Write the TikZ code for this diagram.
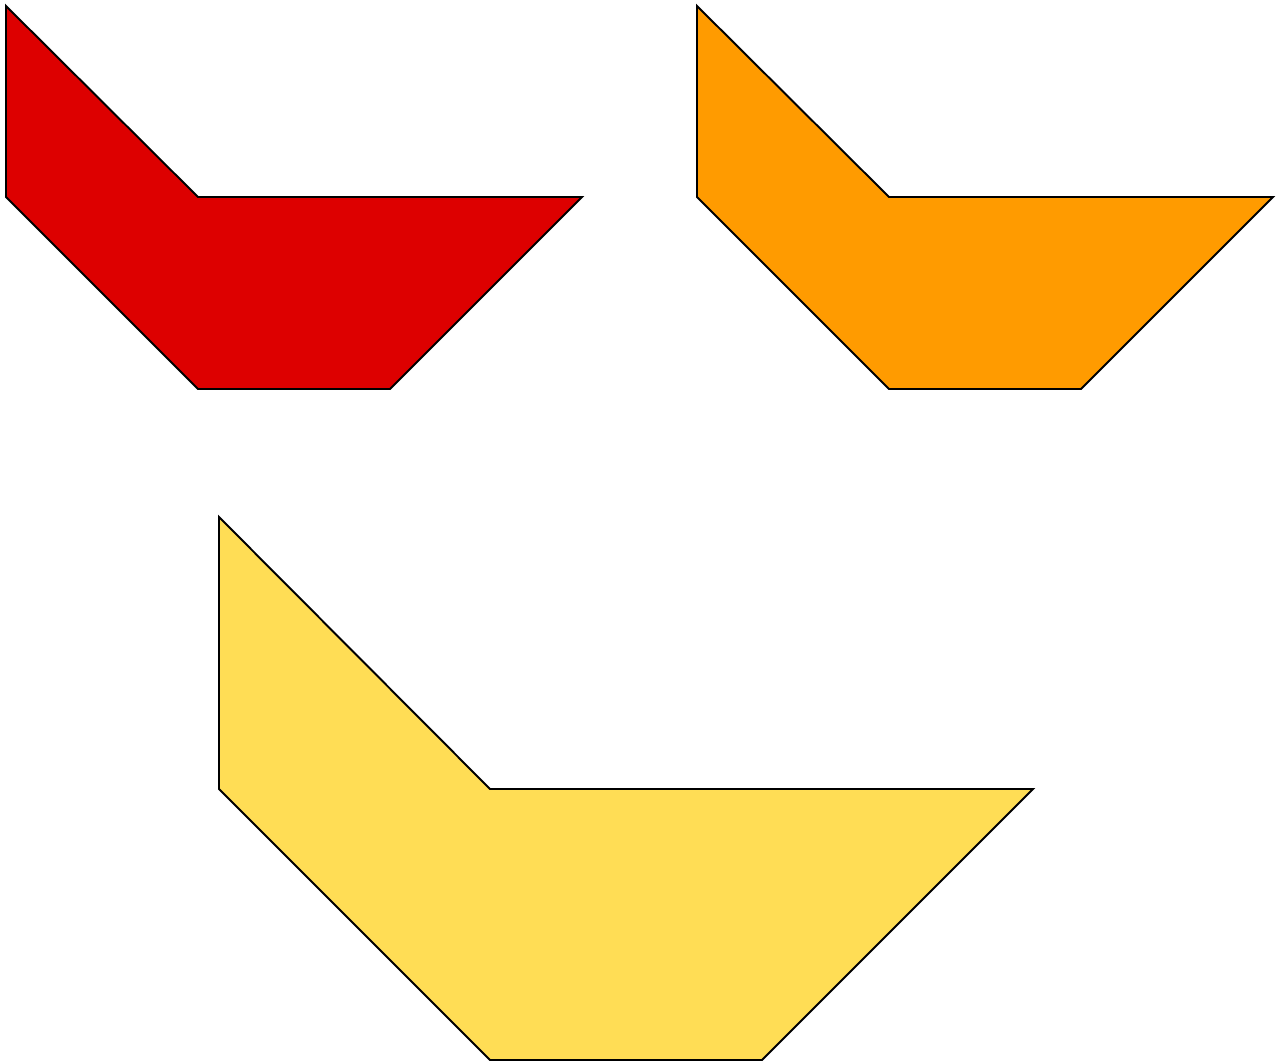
\documentclass[tikz,border=0pt]{standalone}
\usepackage{tikz}
\definecolor{redcol}{RGB}{221,0,0}
\definecolor{orangecol}{RGB}{255,155,0}
\definecolor{yellowcol}{RGB}{255,221,85}

\begin{document}
\begin{tikzpicture}[
  x=0.02cm, y=-0.02cm,
  %% boat-shaped piece — thin black outline
  piece/.style={draw=black, line width=1.1pt, line join=miter},
]
\useasboundingbox (0,0) rectangle (1278,1064);

%%── Upper row: two small pieces ──────────────────────────────────────────────
\foreach \ox/\col in {6/redcol, 697/orangecol}
  \draw[piece, fill=\col]
    (\ox,6) -- ++(192,191) -- ++(384,0) -- ++(-192,192)
    -- ++(-192,0) -- ++(-192,-192) -- cycle;

%%── Lower piece: scaled by sqrt 2 ────────────────────────────────────────────
\draw[piece, fill=yellowcol]
  (219,517) -- (490,789) -- (1033,789) -- (762,1060)
  -- (490,1060) -- (219,789) -- cycle;

\end{tikzpicture}
\end{document}
